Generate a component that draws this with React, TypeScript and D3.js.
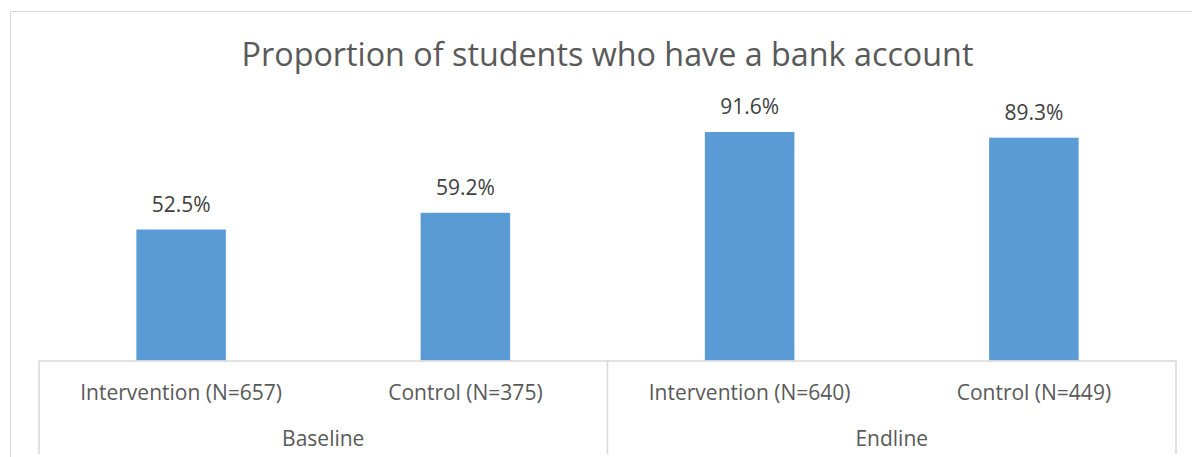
import React from "react";
import * as d3 from "d3";

const title = "Proportion of students who have a bank account";
const categories = ["Intervention (N=657)", "Control (N=375)", "Intervention (N=640)", "Control (N=449)"];
const groups = ["Baseline", "Baseline", "Endline", "Endline"];
const groupNames = ["Baseline", "Endline"];
const values = [52.5, 59.2, 91.6, 89.3];

const W = 1192;
const H = 457;
const plotLeft = 39;
const plotRight = 1176;
const plotBottom = 360.5;
const plotTop = 111;

export default function App() {
  const x = d3.scaleBand<string>().domain(categories.map((_, i) => String(i))).range([plotLeft, plotRight]).paddingInner(0.685).paddingOuter(0.3425);
  const band = d3.scaleBand<string>().domain(categories.map((_, i) => String(i))).range([plotLeft, plotRight]);
  const y = d3.scaleLinear().domain([0, 100]).range([plotBottom, plotTop]);
  const groupScale = d3.scaleBand<string>().domain(groupNames).range([plotLeft, plotRight]);
  const font = "'Open Sans', sans-serif";
  const grid = "#D9D9D9";
  return (
    <svg width={W} height={H} style={{ position: "absolute", left: 0, top: 0 }} fontFamily={font}>
      <rect x={0} y={0} width={W} height={H} fill="#fff" />
      <line x1={10.5} y1={11.5} x2={10.5} y2={H} stroke={grid} strokeWidth={1} />
      <line x1={10.5} y1={11.5} x2={W} y2={11.5} stroke={grid} strokeWidth={1} />
      <text x={(plotLeft + plotRight) / 2} y={66} textAnchor="middle" fontSize={32.3} fill="#595959">{title}</text>
      {values.map((v, i) => (
        <g key={i}>
          <rect x={x(String(i))} y={y(v)} width={x.bandwidth()} height={plotBottom - y(v)} fill="#5B9BD5" />
          <text x={x(String(i))! + x.bandwidth() / 2} y={y(v) - 17.5} textAnchor="middle" fontSize={21} fill="#404040">{v.toFixed(1)}%</text>
          <text x={band(String(i))! + band.bandwidth() / 2} y={399.5} textAnchor="middle" fontSize={21} fill="#595959">{categories[i]}</text>
        </g>
      ))}
      <line x1={plotLeft} y1={plotBottom + 0.5} x2={plotRight} y2={plotBottom + 0.5} stroke={grid} strokeWidth={1.5} />
      {[plotLeft, groupScale("Endline")!, plotRight].map((lx, i) => (
        <line key={i} x1={lx} y1={plotBottom} x2={lx} y2={454} stroke={grid} strokeWidth={1.5} />
      ))}
      {groupNames.map((g) => (
        <text key={g} x={groupScale(g)! + groupScale.bandwidth() / 2} y={446} textAnchor="middle" fontSize={21} fill="#595959">{g}</text>
      ))}
    </svg>
  );
}
